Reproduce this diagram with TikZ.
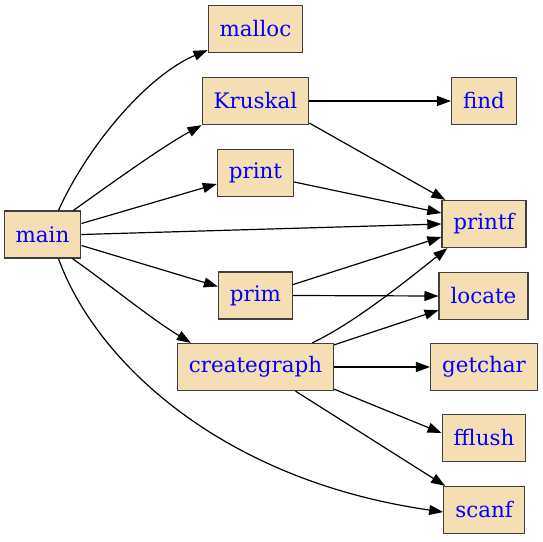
\documentclass[tikz,border=0pt]{standalone}
\usepackage{fontspec}
\setmainfont{DejaVu Serif}
\usetikzlibrary{shapes,arrows.meta,positioning}
\definecolor{wheat}{HTML}{F5DEB3}
\definecolor{edgegray}{HTML}{404040}

\begin{document}
\begin{tikzpicture}[x=1pt, y=-1pt,
  fn/.style={draw=edgegray, line width=1.3pt, rectangle, fill=wheat, text=blue,
    minimum height=47pt, inner xsep=11.5pt, font=\fontsize{21.4}{24}\selectfont},
  call/.style={-{Triangle[length=14pt,width=10pt]}, line width=1.2pt}]
\useasboundingbox (0,0) rectangle (543,541);

% Caller
\node[fn] (main) at (42.5,234.5) {main};

% Callees of main
\node[fn] (malloc) at (255.5,29) {malloc};
\node[fn] (kruskal) at (255.5,101) {Kruskal};
\node[fn] (print) at (255.5,173) {print};
\node[fn] (prim) at (255.5,295.5) {prim};
\node[fn] (creategraph) at (255.5,367) {creategraph};

% Library functions
\node[fn] (find) at (484,101) {find};
\node[fn] (printf) at (484,224) {printf};
\node[fn] (locate) at (483.5,296) {locate};
\node[fn] (getchar) at (484,367) {getchar};
\node[fn] (fflush) at (484,438) {fflush};
\node[fn] (scanf) at (484,510) {scanf};

% Calls from main
\draw[call] ([xshift=16pt]main.north) .. controls (88,145) and (148,75) .. ([yshift=3pt]malloc.south west);
\draw[call] ([xshift=-8pt]main.north east) .. controls (105,188) and (160,148) .. (kruskal.south west);
\draw[call] ([yshift=11pt]main.east) -- ([yshift=-11pt]print.west);
\draw[call] (main.east) -- (printf.west);
\draw[call] ([yshift=-11pt]main.east) -- ([yshift=9pt]prim.west);
\draw[call] ([xshift=-9pt]main.south east) .. controls (110,285) and (150,318) .. ([xshift=14pt]creategraph.north west);
\draw[call] ([xshift=16pt]main.south) .. controls (95,360) and (220,480) .. ([yshift=-2pt]scanf.west);

% Calls from the others
\draw[call] (kruskal.east) -- (find.west);
\draw[call] ([yshift=2pt]kruskal.south east) -- ([xshift=4pt]printf.north west);
\draw[call] ([yshift=-9pt]print.east) -- ([yshift=11pt]printf.west);
\draw[call] ([yshift=11pt]prim.east) -- ([yshift=-13pt]printf.west);
\draw[call] (prim.east) -- (locate.west);
\draw[call] ([xshift=-22pt]creategraph.north east) .. controls (350,325) and (395,290) .. ([xshift=6pt]printf.south west);
\draw[call] ([yshift=-2pt]creategraph.north east) -- ([yshift=10pt]locate.south west);
\draw[call] (creategraph.east) -- (getchar.west);
\draw[call] ([yshift=2pt]creategraph.south east) -- ([yshift=5pt]fflush.west);
\draw[call] ([xshift=40pt]creategraph.south) -- ([xshift=2pt]scanf.north west);
\end{tikzpicture}
\end{document}
